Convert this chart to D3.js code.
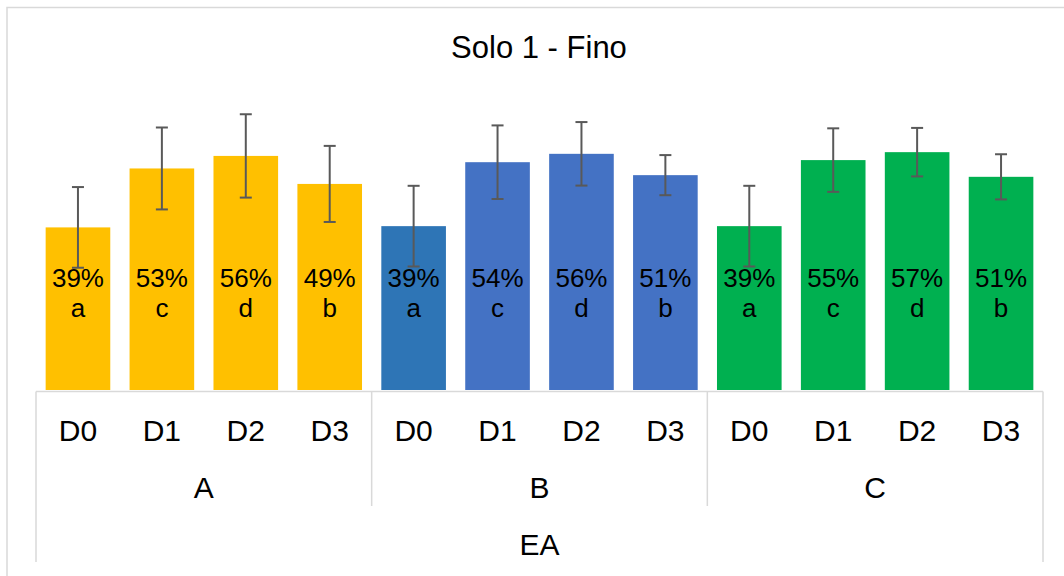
<!DOCTYPE html>
<html>
<head>
<meta charset="utf-8">
<script src="https://cdn.jsdelivr.net/npm/d3@7"></script>
<style>
  html, body { margin: 0; padding: 0; background: #fff; }
  svg { display: block; font-family: "Liberation Sans", Arial, sans-serif; }
</style>
</head>
<body>
<svg id="chart" width="1064" height="576"></svg>
<script>
const title = "Solo 1 - Fino";
const axisTitle = "EA";
const groups = ["A", "B", "C"];
const doses = ["D0", "D1", "D2", "D3"];
const valuesA = [0.389, 0.530, 0.560, 0.493];
const valuesB = [0.392, 0.545, 0.565, 0.514];
const valuesC = [0.392, 0.550, 0.569, 0.510];
const errorsA = [0.0965, 0.098, 0.0997, 0.091];
const errorsB = [0.0965, 0.088, 0.076, 0.048];
const errorsC = [0.0965, 0.076, 0.058, 0.054];
const pctLabelsA = ["39%", "53%", "56%", "49%"];
const pctLabelsB = ["39%", "54%", "56%", "51%"];
const pctLabelsC = ["39%", "55%", "57%", "51%"];
const letters = ["a", "c", "d", "b"];
const colorsA = ["#FFC000", "#FFC000", "#FFC000", "#FFC000"];
const colorsB = ["#2E75B6", "#4472C4", "#4472C4", "#4472C4"];
const colorsC = ["#00B050", "#00B050", "#00B050", "#00B050"];

const values = [valuesA, valuesB, valuesC];
const errors = [errorsA, errorsB, errorsC];
const pctLabels = [pctLabelsA, pctLabelsB, pctLabelsC];
const colors = [colorsA, colorsB, colorsC];

const rows = [];
groups.forEach((g, gi) => doses.forEach((d, di) => rows.push({
  key: g + "-" + d, group: g, dose: d,
  value: values[gi][di], err: errors[gi][di],
  pct: pctLabels[gi][di], letter: letters[di], color: colors[gi][di]
})));

const svg = d3.select("#chart");
const left = 36, right = 1043, baseY = 390, axisY = 391.5;
const yMax = 0.7;

const x = d3.scaleBand().domain(rows.map(r => r.key)).range([left, right])
  .paddingInner(0.23).paddingOuter(0.115);
const xg = d3.scaleBand().domain(groups).range([left, right]);
const y = d3.scaleLinear().domain([0, yMax]).range([baseY, baseY - yMax * 418]);

const lineColor = "#D9D9D9";

// outer chart border
svg.append("rect").attr("x", 7).attr("y", 7.5).attr("width", 1070).attr("height", 590)
  .attr("fill", "none").attr("stroke", lineColor).attr("stroke-width", 1.5);

// title
svg.append("text").attr("x", 539).attr("y", 58).attr("text-anchor", "middle")
  .attr("font-size", 31).attr("fill", "#000").text(title);

// bars
svg.append("g").selectAll("rect").data(rows).join("rect")
  .attr("x", r => x(r.key)).attr("width", x.bandwidth())
  .attr("y", r => y(r.value)).attr("height", r => y(0) - y(r.value))
  .attr("fill", r => r.color);

// data labels
const lbl = svg.append("g").attr("text-anchor", "middle").attr("font-size", 26).attr("fill", "#000");
lbl.selectAll("text.p").data(rows).join("text").attr("class", "p")
  .attr("x", r => x(r.key) + x.bandwidth() / 2).attr("y", 287).text(r => r.pct);
lbl.selectAll("text.l").data(rows).join("text").attr("class", "l")
  .attr("x", r => x(r.key) + x.bandwidth() / 2).attr("y", 317).text(r => r.letter);

// error bars
const eb = svg.append("g").attr("stroke", "#595959").attr("stroke-width", 2).attr("fill", "none");
rows.forEach(r => {
  const cx = x(r.key) + x.bandwidth() / 2;
  const y1 = y(r.value + r.err), y2 = y(r.value - r.err);
  eb.append("line").attr("x1", cx).attr("x2", cx).attr("y1", y1).attr("y2", y2);
  eb.append("line").attr("x1", cx - 6).attr("x2", cx + 6).attr("y1", y1).attr("y2", y1);
  eb.append("line").attr("x1", cx - 6).attr("x2", cx + 6).attr("y1", y2).attr("y2", y2);
});

// category axis
const ax = svg.append("g").attr("stroke", lineColor).attr("stroke-width", 1.5);
ax.append("line").attr("x1", left).attr("x2", right).attr("y1", axisY).attr("y2", axisY);
groups.forEach((g, i) => {
  const gx = xg(g);
  ax.append("line").attr("x1", gx).attr("x2", gx).attr("y1", axisY).attr("y2", i === 0 ? 562 : 506);
});
ax.append("line").attr("x1", right).attr("x2", right).attr("y1", axisY).attr("y2", 562);

const tl = svg.append("g").attr("text-anchor", "middle").attr("fill", "#000");
tl.selectAll("text.d").data(rows).join("text").attr("class", "d")
  .attr("x", r => x(r.key) + x.bandwidth() / 2).attr("y", 441).attr("font-size", 30).text(r => r.dose);
tl.selectAll("text.g").data(groups).join("text").attr("class", "g")
  .attr("x", g => xg(g) + xg.bandwidth() / 2).attr("y", 498).attr("font-size", 30).text(g => g);
tl.append("text").attr("x", (left + right) / 2).attr("y", 555).attr("font-size", 30).text(axisTitle);
</script>
</body>
</html>
